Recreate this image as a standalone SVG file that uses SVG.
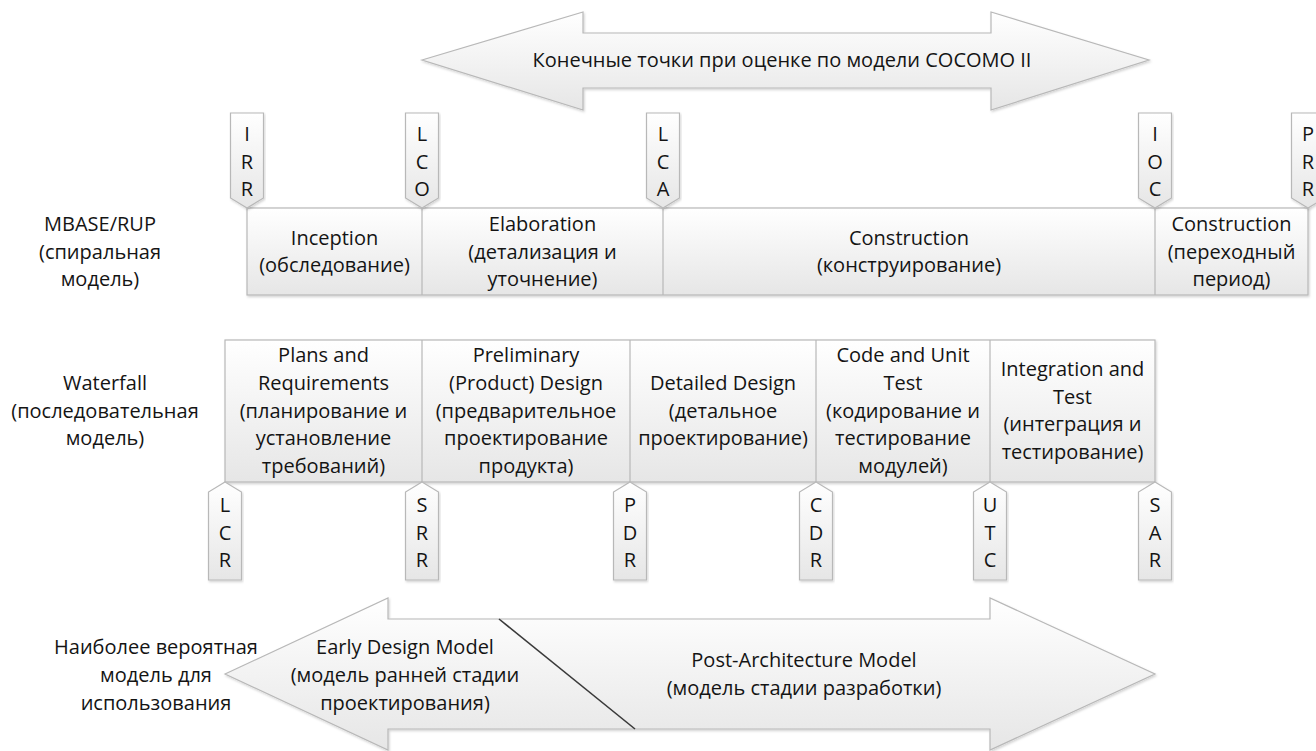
<svg xmlns="http://www.w3.org/2000/svg" width="1316" height="751" viewBox="0 0 1316 751">
<defs>
<linearGradient id="g" x1="0" y1="0" x2="0" y2="1">
<stop offset="0" stop-color="#ffffff"/>
<stop offset="1" stop-color="#e6e6e6"/>
</linearGradient>
<filter id="sh" x="-5%" y="-5%" width="110%" height="115%">
<feDropShadow dx="1" dy="1.5" stdDeviation="1" flood-color="#000" flood-opacity="0.18"/>
</filter>
<style>
.s{fill:url(#g);stroke:#b8b8b8;stroke-width:1.2;filter:url(#sh)}
.d{stroke:#b8b8b8;stroke-width:1.2;fill:none}
text{font-family:"Open Sans","Liberation Sans",sans-serif;font-size:20px;fill:#141414;text-anchor:middle}
</style>
</defs>
<rect width="1316" height="751" fill="#ffffff"/>

<g id="top-arrow">
<polygon class="s" points="422,60 583,12 583,33 991,33 991,12 1149,60 991,110 991,88 583,88 583,110"/>
<text x="782" y="67">Конечные точки при оценке по модели COCOMO II</text>
</g>

<g id="label-mbase">
<text x="100" y="231">MBASE/RUP</text>
<text x="100" y="258.5">(спиральная</text>
<text x="100" y="286">модель)</text>
</g>

<g id="mbase-bar">
<rect class="s" x="247" y="208" width="1061" height="87"/>
<line class="d" x1="422" y1="208" x2="422" y2="295"/>
<line class="d" x1="663" y1="208" x2="663" y2="295"/>
<line class="d" x1="1155" y1="208" x2="1155" y2="295"/>
</g>
<g id="inception"><text x="334.5" y="244.6">Inception</text><text x="334.5" y="272.4">(обследование)</text></g>
<g id="elaboration"><text x="542.5" y="230.8">Elaboration</text><text x="542.5" y="258.5">(детализация и</text><text x="542.5" y="286.2">уточнение)</text></g>
<g id="construction"><text x="909" y="244.6">Construction</text><text x="909" y="272.4">(конструирование)</text></g>
<g id="transition"><text x="1231.5" y="230.8">Construction</text><text x="1231.5" y="258.5">(переходный</text><text x="1231.5" y="286.2">период)</text></g>

<g id="m-IRR"><path class="s" d="M230.5,113H263.5V198L247,208L230.5,198Z"/><text x="247" y="141">I</text><text x="247" y="168.5">R</text><text x="247" y="196">R</text></g>
<g id="m-LCO"><path class="s" d="M405.5,113H438.5V198L422,208L405.5,198Z"/><text x="422" y="141">L</text><text x="422" y="168.5">C</text><text x="422" y="196">O</text></g>
<g id="m-LCA"><path class="s" d="M646.5,113H679.5V198L663,208L646.5,198Z"/><text x="663" y="141">L</text><text x="663" y="168.5">C</text><text x="663" y="196">A</text></g>
<g id="m-IOC"><path class="s" d="M1138.5,113H1171.5V198L1155,208L1138.5,198Z"/><text x="1155" y="141">I</text><text x="1155" y="168.5">O</text><text x="1155" y="196">C</text></g>
<g id="m-PRR"><path class="s" d="M1291.5,113H1324.5V198L1308,208L1291.5,198Z"/><text x="1308" y="141">P</text><text x="1308" y="168.5">R</text><text x="1308" y="196">R</text></g>

<g id="label-waterfall">
<text x="105" y="390">Waterfall</text>
<text x="105" y="417.5">(последовательная</text>
<text x="105" y="445">модель)</text>
</g>

<g id="waterfall-bar">
<rect class="s" x="225" y="340" width="930" height="142"/>
<line class="d" x1="422" y1="340" x2="422" y2="482"/>
<line class="d" x1="630" y1="340" x2="630" y2="482"/>
<line class="d" x1="816" y1="340" x2="816" y2="482"/>
<line class="d" x1="990" y1="340" x2="990" y2="482"/>
</g>
<g id="plans"><text x="323.5" y="362">Plans and</text><text x="323.5" y="389.8">Requirements</text><text x="323.5" y="417.5">(планирование и</text><text x="323.5" y="445.2">установление</text><text x="323.5" y="473">требований)</text></g>
<g id="preliminary"><text x="526" y="362">Preliminary</text><text x="526" y="389.8">(Product) Design</text><text x="526" y="417.5">(предварительное</text><text x="526" y="445.2">проектирование</text><text x="526" y="473">продукта)</text></g>
<g id="detailed"><text x="723" y="389.8">Detailed Design</text><text x="723" y="417.5">(детальное</text><text x="723" y="445.2">проектирование)</text></g>
<g id="code"><text x="903" y="362">Code and Unit</text><text x="903" y="389.8">Test</text><text x="903" y="417.5">(кодирование и</text><text x="903" y="445.2">тестирование</text><text x="903" y="473">модулей)</text></g>
<g id="integration"><text x="1072.5" y="376">Integration and</text><text x="1072.5" y="403.7">Test</text><text x="1072.5" y="431.3">(интеграция и</text><text x="1072.5" y="459">тестирование)</text></g>

<g id="m-LCR"><path class="s" d="M225,482L241.5,492V580H208.5V492Z"/><text x="225" y="512">L</text><text x="225" y="539.7">C</text><text x="225" y="567.4">R</text></g>
<g id="m-SRR"><path class="s" d="M422,482L438.5,492V580H405.5V492Z"/><text x="422" y="512">S</text><text x="422" y="539.7">R</text><text x="422" y="567.4">R</text></g>
<g id="m-PDR"><path class="s" d="M630,482L646.5,492V580H613.5V492Z"/><text x="630" y="512">P</text><text x="630" y="539.7">D</text><text x="630" y="567.4">R</text></g>
<g id="m-CDR"><path class="s" d="M816,482L832.5,492V580H799.5V492Z"/><text x="816" y="512">C</text><text x="816" y="539.7">D</text><text x="816" y="567.4">R</text></g>
<g id="m-UTC"><path class="s" d="M990,482L1006.5,492V580H973.5V492Z"/><text x="990" y="512">U</text><text x="990" y="539.7">T</text><text x="990" y="567.4">C</text></g>
<g id="m-SAR"><path class="s" d="M1155,482L1171.5,492V580H1138.5V492Z"/><text x="1155" y="512">S</text><text x="1155" y="539.7">A</text><text x="1155" y="567.4">R</text></g>

<g id="label-model">
<text x="156" y="654">Наиболее вероятная</text>
<text x="156" y="682">модель для</text>
<text x="156" y="710">использования</text>
</g>

<g id="bottom-arrow">
<polygon class="s" points="225,674 388,598 388,619 990,619 990,598 1155,674 990,750 990,729 388,729 388,750"/>
<line x1="499" y1="619" x2="635" y2="729" stroke="#3a3a3a" stroke-width="1.6"/>
</g>
<g id="early-design"><text x="405" y="654">Early Design Model</text><text x="405" y="682">(модель ранней стадии</text><text x="405" y="710">проектирования)</text></g>
<g id="post-architecture"><text x="804" y="667">Post-Architecture Model</text><text x="804" y="695">(модель стадии разработки)</text></g>
<g id="connectors"></g>
</svg>
